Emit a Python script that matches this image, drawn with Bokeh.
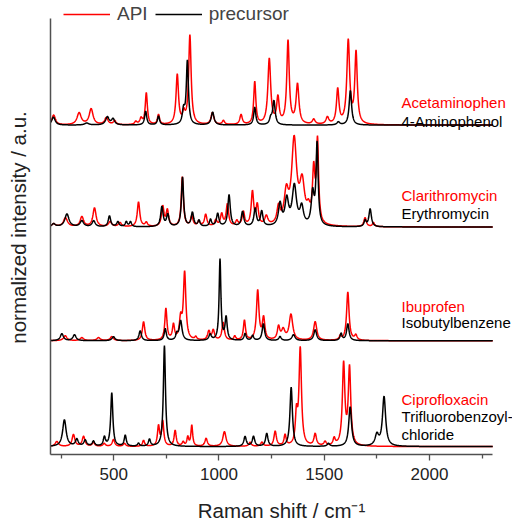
import numpy as np
from bokeh.plotting import figure
from bokeh.models import Range1d, FixedTicker, Legend, LegendItem, Label
from bokeh.embed import file_html
from bokeh.resources import INLINE

# ---------------- data (peak centre / height / half-width) ----------------
X_START, X_END = 200, 2300
XTICKS = [500, 1000, 1500, 2000]
XMINOR = [250, 750, 1250, 1750, 2250]

# Acetaminophen (API)
acet_pos = [215, 336, 393, 465, 505, 605, 630, 655, 713, 802, 833, 862, 969, 1021, 1105, 1170, 1239, 1280, 1328, 1373, 1450, 1515, 1564, 1614, 1651]
acet_ht = [0.10, 0.12, 0.16, 0.07, 0.04, 0.03, 0.06, 0.32, 0.10, 0.50, 0.10, 0.90, 0.12, 0.04, 0.10, 0.43, 0.66, 0.26, 0.84, 0.40, 0.05, 0.07, 0.35, 0.84, 0.72]
acet_w = [10, 12, 11, 10, 8, 7, 7, 6, 6, 7, 7, 7, 8, 7, 7, 6, 8, 7, 7, 8, 8, 8, 7, 8, 7]
# 4-Aminophenol (precursor)
amph_pos = [214, 372, 470, 497, 652, 713, 832, 850, 970, 1170, 1246, 1261, 1567, 1624]
amph_ht = [0.08, 0.02, 0.08, 0.06, 0.14, 0.09, 0.14, 0.64, 0.13, 0.18, 0.06, 0.24, 0.03, 0.35]
amph_w = [10, 12, 10, 9, 6, 6, 7, 6, 8, 6, 7, 7, 8, 7]

# Clarithromycin (API)
clar_pos = [215, 271, 349, 409, 483, 530, 618, 655, 733, 755, 826, 871, 905, 937, 985, 1013, 1040, 1085, 1116, 1159, 1182, 1225, 1283, 1320, 1357, 1395, 1425, 1450, 1468, 1694, 1734]
clar_ht = [0.03, 0.09, 0.10, 0.19, 0.05, 0.04, 0.25, 0.04, 0.20, 0.16, 0.50, 0.10, 0.05, 0.12, 0.06, 0.12, 0.22, 0.05, 0.14, 0.34, 0.20, 0.09, 0.17, 0.30, 0.84, 0.40, 0.12, 0.52, 0.82, 0.09, 0.04]
clar_w = [10, 12, 10, 9, 9, 9, 7, 7, 7, 7, 6, 7, 7, 7, 7, 7, 7, 7, 7, 7, 7, 9, 9, 12, 14, 14, 10, 7, 6, 7, 6]
# Erythromycin (precursor)
eryt_pos = [215, 278, 349, 405, 480, 520, 560, 580, 729, 757, 827, 874, 905, 960, 994, 1048, 1112, 1172, 1203, 1290, 1322, 1358, 1393, 1445, 1466, 1694, 1718]
eryt_ht = [0.03, 0.13, 0.06, 0.06, 0.11, 0.05, 0.05, 0.05, 0.20, 0.12, 0.50, 0.14, 0.06, 0.07, 0.13, 0.32, 0.15, 0.18, 0.15, 0.22, 0.26, 0.40, 0.18, 0.32, 0.82, 0.06, 0.18]
eryt_w = [10, 12, 10, 9, 7, 7, 6, 6, 7, 7, 6, 7, 6, 6, 7, 7, 7, 7, 7, 9, 10, 12, 10, 8, 6, 6, 7]

# Ibuprofen (API)
ibup_pos = [270, 349, 428, 491, 642, 748, 784, 818, 837, 890, 952, 973, 1020, 1075, 1121, 1184, 1212, 1283, 1305, 1342, 1457, 1576, 1612, 1650]
ibup_ht = [0.05, 0.03, 0.03, 0.04, 0.19, 0.32, 0.15, 0.20, 0.68, 0.03, 0.09, 0.10, 0.18, 0.04, 0.20, 0.50, 0.22, 0.13, 0.10, 0.26, 0.19, 0.04, 0.49, 0.05]
ibup_w = [10, 10, 10, 9, 7, 6, 6, 7, 7, 6, 7, 7, 7, 6, 6, 7, 7, 7, 10, 10, 9, 6, 7, 7]
# Isobutylbenzene (precursor)
isob_pos = [254, 314, 499, 626, 745, 800, 818, 958, 1005, 1034, 1124, 1160, 1211, 1290, 1354, 1457, 1580, 1612]
isob_ht = [0.07, 0.06, 0.04, 0.10, 0.12, 0.06, 0.20, 0.06, 0.82, 0.23, 0.07, 0.05, 0.17, 0.04, 0.06, 0.11, 0.07, 0.17]
isob_w = [9, 9, 9, 7, 6, 6, 8, 7, 5, 6, 6, 6, 7, 7, 9, 8, 6, 7]

# Ciprofloxacin (API)
cipr_pos = [230, 309, 357, 404, 455, 499, 551, 642, 713, 733, 792, 830, 852, 871, 939, 1026, 1148, 1204, 1267, 1314, 1368, 1386, 1457, 1504, 1547, 1592, 1620]
cipr_ht = [0.05, 0.12, 0.10, 0.04, 0.03, 0.07, 0.03, 0.06, 0.20, 0.25, 0.16, 0.04, 0.09, 0.21, 0.08, 0.15, 0.04, 0.04, 0.15, 0.11, 0.30, 0.98, 0.12, 0.04, 0.07, 0.82, 0.78]
cipr_w = [10, 8, 8, 7, 7, 7, 7, 6, 6, 6, 6, 6, 5, 5, 7, 9, 7, 7, 7, 6, 6, 7, 7, 7, 6, 7, 7]
# Trifluorobenzoyl chloride (precursor)
tfbc_pos = [266, 325, 365, 404, 456, 491, 555, 618, 670, 741, 1124, 1164, 1227, 1343, 1520, 1623, 1750, 1784]
tfbc_ht = [0.27, 0.07, 0.06, 0.05, 0.09, 0.54, 0.11, 0.03, 0.07, 1.02, 0.10, 0.10, 0.13, 0.60, 0.03, 0.40, 0.11, 0.50]
tfbc_w = [10, 8, 8, 7, 6, 6, 6, 6, 6, 6, 7, 7, 7, 7, 7, 8, 10, 9]

# vertical offsets of the stacked pairs (bottom to top)
OFFSETS = [0.0, 1.07, 2.22, 3.25]
API_NAMES = ["Ciprofloxacin", "Ibuprofen", "Clarithromycin", "Acetaminophen"]
PRE_NAMES = [["Trifluorobenzoyl-", "chloride"], ["Isobutylbenzene"], ["Erythromycin"], ["4-Aminophenol"]]

API_PEAKS = [(cipr_pos, cipr_ht, cipr_w), (ibup_pos, ibup_ht, ibup_w), (clar_pos, clar_ht, clar_w), (acet_pos, acet_ht, acet_w)]
PRE_PEAKS = [(tfbc_pos, tfbc_ht, tfbc_w), (isob_pos, isob_ht, isob_w), (eryt_pos, eryt_ht, eryt_w), (amph_pos, amph_ht, amph_w)]

RED = "#ff0000"
BLACK = "#000000"
FONT = "Liberation Sans"

# label baselines (data units)
API_NAME_Y = [0.48, 1.42, 2.54, 3.48]
PRE_NAME_Y = [[0.30, 0.12], [1.25], [2.36], [3.29]]

xg = np.arange(X_START, X_END + 0.5, 1.0)


def spectrum(pos, ht, w):
    c = np.asarray(pos, float)[:, None]
    h = np.asarray(ht, float)[:, None]
    g = np.asarray(w, float)[:, None]
    return (h * g ** 2 / ((xg[None, :] - c) ** 2 + g ** 2)).sum(axis=0)


# frame spans to the right/top edge so the names and the legend are not clipped;
# the axis lines are limited with "bounds"
p = figure(width=512, height=524, output_backend="svg", toolbar_location=None,
           x_range=Range1d(X_START, 2394), y_range=Range1d(-0.08, 4.51),
           min_border_left=50, min_border_right=0, min_border_top=0, min_border_bottom=65)
p.grid.visible = False
p.outline_line_color = None

api_r = None
pre_r = None
for i in range(4):
    ya = spectrum(*API_PEAKS[i]) + OFFSETS[i]
    yp = spectrum(*PRE_PEAKS[i]) + OFFSETS[i]
    ra = p.line(xg, ya, line_color=RED, line_width=1.5)
    rp = p.line(xg, yp, line_color=BLACK, line_width=1.5)
    api_r = api_r or ra
    pre_r = pre_r or rp

# names at the right
name_x = 1867
for i in range(4):
    p.add_layout(Label(x=name_x, y=API_NAME_Y[i], text=API_NAMES[i], text_color=RED,
                       text_font=FONT, text_font_size="15px", text_baseline="alphabetic"))
    for t, yy in zip(PRE_NAMES[i], PRE_NAME_Y[i]):
        p.add_layout(Label(x=name_x, y=yy, text=t, text_color=BLACK, text_font=FONT,
                           text_font_size="15px", text_baseline="alphabetic"))

# axes
xa = p.xaxis[0]
xa.bounds = (X_START, X_END)
xa.ticker = FixedTicker(ticks=XTICKS, minor_ticks=XMINOR)
xa.axis_line_color = "#505050"
xa.axis_line_width = 1.5
xa.major_tick_line_color = "#505050"
xa.minor_tick_line_color = "#505050"
xa.major_tick_line_width = 1.3
xa.minor_tick_line_width = 1.3
xa.major_tick_in = 0
xa.major_tick_out = 6
xa.minor_tick_in = 0
xa.minor_tick_out = 4
xa.major_label_text_font = FONT
xa.major_label_text_font_size = "17px"
xa.major_label_text_color = "#222222"
xa.major_label_standoff = 7
xa.axis_label = "Raman shift / cm\u207b\u00b9"
xa.axis_label_text_font = FONT
xa.axis_label_text_font_size = "20.5px"
xa.axis_label_text_font_style = "normal"
xa.axis_label_text_color = "#222222"
xa.axis_label_standoff = 16

ya_ = p.yaxis[0]
ya_.bounds = (-0.08, 4.33)
ya_.ticker = FixedTicker(ticks=[])
ya_.axis_line_color = "#505050"
ya_.axis_line_width = 1.5
ya_.major_tick_out = 0
ya_.major_tick_in = 0
ya_.minor_tick_out = 0
ya_.minor_tick_in = 0
ya_.axis_label = "normalized intensity / a.u."
ya_.axis_label_text_font = FONT
ya_.axis_label_text_font_size = "20.5px"
ya_.axis_label_text_font_style = "normal"
ya_.axis_label_text_color = "#222222"
ya_.axis_label_standoff = 21

legend = Legend(items=[LegendItem(label="API", renderers=[api_r]),
                       LegendItem(label="precursor", renderers=[pre_r])],
                orientation="horizontal", location=(13, 429),
                glyph_width=47, glyph_height=20, label_height=20, label_standoff=7,
                spacing=7, padding=0, margin=0,
                label_text_font=FONT, label_text_font_size="19px",
                border_line_color=None, background_fill_alpha=0)
p.add_layout(legend)

open("out.html", "w").write(file_html(p, INLINE))
